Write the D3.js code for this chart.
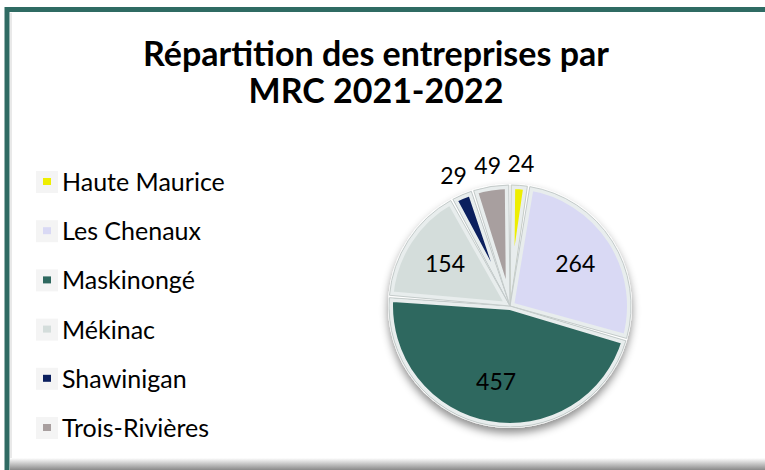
<!DOCTYPE html>
<html>
<head>
<meta charset="utf-8">
<script src="https://cdn.jsdelivr.net/npm/d3@7"></script>
<style>
  body { margin: 0; background: #fff; }
  svg { display: block; }
</style>
</head>
<body>
<svg class="chart"></svg>
<script>
let width = 765,
  height = 470;

// data
const regions = ["Haute Maurice", "Les Chenaux", "Maskinongé", "Mékinac", "Shawinigan", "Trois-Rivières"];
const counts = [24, 264, 457, 154, 29, 49];
const sliceColors = ["#eeee00", "#d9d9f4", "#2e685f", "#d4dddb", "#0b1f5e", "#a89f9f"];
const titleLines = ["Répartition des entreprises par", "MRC 2021-2022"];

let svg = d3.select(".chart").attr("width", width).attr("height", height);
let defs = svg.append("defs");

// frame: teal border top/left, grey shadow at bottom
let grad = defs.append("linearGradient").attr("id", "bottomShade")
  .attr("x1", 0).attr("y1", 0).attr("x2", 0).attr("y2", 1);
grad.append("stop").attr("offset", "0%").attr("stop-color", "#ffffff");
grad.append("stop").attr("offset", "100%").attr("stop-color", "#8a8a8a");

svg.append("rect")
  .attr("x", 7).attr("y", 9.5)
  .attr("width", 820).attr("height", 520)
  .attr("fill", "#fff")
  .attr("stroke", "#2f6b63")
  .attr("stroke-width", 5);
svg.append("line")
  .attr("x1", 11).attr("x2", 11).attr("y1", 13).attr("y2", 460)
  .attr("stroke", "#e2e2e2").attr("stroke-width", 1.5);
svg.append("rect")
  .attr("x", 10).attr("y", 458)
  .attr("width", width - 10).attr("height", 12)
  .attr("fill", "url(#bottomShade)");

// title (one text, two lines)
svg.append("text")
  .attr("id", "title")
  .attr("text-anchor", "middle")
  .attr("font-family", "Lato, sans-serif")
  .attr("font-weight", "bold")
  .attr("font-size", 34)
  .attr("fill", "#000")
  .selectAll("tspan")
  .data(titleLines)
  .enter()
  .append("tspan")
  .attr("x", 376)
  .attr("y", (d, i) => 66 + i * 37)
  .text((d) => d);

// legend
let legendY = d3.scalePoint().domain(regions).range([182, 428]);
let legend = svg.append("g").attr("id", "legend")
  .selectAll("g")
  .data(regions)
  .enter()
  .append("g")
  .attr("transform", (d) => "translate(0," + legendY(d) + ")");
legend.append("rect")
  .attr("x", 36).attr("y", -11)
  .attr("width", 22).attr("height", 22)
  .attr("fill", "#f4f4f4");
legend.append("rect")
  .attr("x", 43).attr("y", -4)
  .attr("width", 8).attr("height", 7)
  .attr("fill", (d, i) => sliceColors[i]);
legend.append("text")
  .attr("x", 62).attr("y", 9)
  .attr("font-family", "Lato, sans-serif")
  .attr("font-size", 25)
  .attr("fill", "#000")
  .text((d) => d);

// pie
let cx = 510, cy = 306, radius = 121;
let pie = d3.pie().sort(null).value((d) => d);
let arcs = pie(counts);
let arc = d3.arc().innerRadius(0).outerRadius(radius).padAngle(0.02);

let shadow = defs.append("filter").attr("id", "pieShadow")
  .attr("x", "-20%").attr("y", "-20%").attr("width", "140%").attr("height", "140%");
shadow.append("feDropShadow")
  .attr("dx", 0).attr("dy", 5).attr("stdDeviation", 4)
  .attr("flood-color", "#000").attr("flood-opacity", 0.45);

arcs.forEach((d, i) => {
  defs.append("clipPath").attr("id", "slice" + i)
    .append("path").attr("d", arc(d));
});

let pieG = svg.append("g").attr("id", "pie")
  .attr("transform", "translate(" + cx + "," + cy + ")");

pieG.append("circle")
  .attr("r", radius + 1)
  .attr("fill", "#fff")
  .attr("filter", "url(#pieShadow)");

let slices = pieG.selectAll("g.slice")
  .data(arcs)
  .enter()
  .append("g")
  .attr("class", "slice");
slices.append("path")
  .attr("d", arc)
  .attr("fill", (d, i) => sliceColors[i])
  .attr("stroke", "#e8eded")
  .attr("stroke-width", 8)
  .attr("stroke-linejoin", "round")
  .attr("clip-path", (d, i) => "url(#slice" + i + ")");
slices.append("path")
  .attr("d", arc)
  .attr("fill", "none")
  .attr("stroke", "#c4cbca")
  .attr("stroke-width", 1);

// value labels: small slices outside, others inside
let labelArcIn = d3.arc().innerRadius(radius * 0.64).outerRadius(radius * 0.64);
let labelArcOut = d3.arc().innerRadius(radius + 21).outerRadius(radius + 21);
pieG.selectAll("text.val")
  .data(arcs)
  .enter()
  .append("text")
  .attr("class", "val")
  .attr("transform", (d) => {
    let c = d.value < 100 ? labelArcOut.centroid(d) : labelArcIn.centroid(d);
    return "translate(" + c[0] + "," + c[1] + ")";
  })
  .attr("dy", "0.35em")
  .attr("text-anchor", "middle")
  .attr("font-family", "Lato, sans-serif")
  .attr("font-size", 23)
  .attr("fill", "#000")
  .text((d) => d.value);
</script>
</body>
</html>
